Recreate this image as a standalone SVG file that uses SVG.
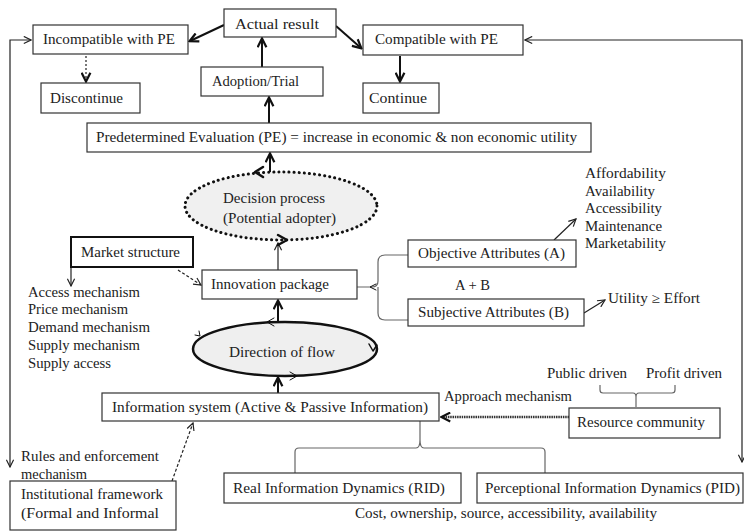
<svg xmlns="http://www.w3.org/2000/svg" width="744" height="531" viewBox="0 0 744 531" font-family="'Liberation Serif', 'Times New Roman', 'DejaVu Serif', serif">
<defs>
<style>
text{font-family:'Liberation Serif','Times New Roman','DejaVu Serif',serif;font-size:14px;fill:#222}
.box{fill:#fff;stroke:#333;stroke-width:1.2}
.ln{fill:none;stroke:#222;stroke-width:1.2}
.thick{fill:none;stroke:#111;stroke-width:2}
.br{fill:none;stroke:#666;stroke-width:1.2}
.chev{fill:none;stroke:#111;stroke-linecap:round;stroke-linejoin:round}
</style>
<marker id="a" viewBox="0 0 10 10" refX="9" refY="5" markerWidth="9" markerHeight="9" markerUnits="userSpaceOnUse" orient="auto-start-reverse">
<path d="M1,1 L9,5 L1,9" fill="none" stroke="#222" stroke-width="1.3"/>
</marker>
<marker id="b" viewBox="0 0 10 10" refX="8.5" refY="5" markerWidth="11" markerHeight="11" markerUnits="userSpaceOnUse" orient="auto-start-reverse">
<path d="M1,1 L9,5 L1,9" fill="none" stroke="#111" stroke-width="2"/>
</marker>
</defs>
<rect width="744" height="531" fill="#fff"/>

<g id="connectors">
<path class="ln" d="M10,467 L10,40 L31,40" marker-start="url(#a)" marker-end="url(#a)"/>
<path class="ln" d="M742,462 L742,40 L525,40" marker-start="url(#a)" marker-end="url(#a)"/>
<line class="thick" x1="224" y1="25" x2="190" y2="41" marker-end="url(#b)"/>
<line class="thick" x1="336" y1="26" x2="361" y2="48" marker-end="url(#b)"/>
<line class="thick" x1="262" y1="67" x2="262" y2="39" marker-end="url(#b)"/>
<line class="thick" x1="269" y1="123" x2="269" y2="98" marker-end="url(#b)"/>
<line class="thick" x1="400" y1="56" x2="400" y2="81" stroke-width="1.6" marker-end="url(#b)"/>
<line class="ln" x1="86" y1="56" x2="86" y2="81" stroke-dasharray="2 2" stroke-width="1.5" marker-end="url(#b)"/>
<line class="thick" x1="270" y1="172" x2="270" y2="154" marker-end="url(#b)"/>
<line class="ln" x1="278" y1="270" x2="278" y2="243" marker-end="url(#a)"/>
<line class="thick" x1="278" y1="322" x2="278" y2="301" marker-end="url(#b)"/>
<line class="thick" x1="278" y1="393" x2="278" y2="378" marker-end="url(#b)"/>
<line class="ln" x1="71" y1="267" x2="71" y2="286" marker-end="url(#a)"/>
<line class="ln" x1="178" y1="270" x2="201" y2="285" stroke-dasharray="3 2" stroke-width="1" marker-end="url(#a)"/>
<line class="ln" x1="172" y1="481" x2="193" y2="423" stroke-dasharray="3 2" stroke-width="1" marker-end="url(#a)"/>
<line x1="569" y1="417" x2="442" y2="417" stroke="#333" stroke-width="2.5" stroke-dasharray="1.5 0.8" marker-end="url(#b)"/>
<line class="ln" x1="554" y1="240" x2="576" y2="219" stroke-width="1" marker-end="url(#a)"/>
<line class="ln" x1="584" y1="313" x2="605" y2="300" stroke-width="1" marker-end="url(#a)"/>
<path class="br" d="M357,287 L372,287 Q378,287 378,281 L378,262 Q378,255 385,255 L408,255 M378,287 Q378,293 378,294 L378,313 Q378,320 385,320 L408,320"/>
<path class="chev" d="M376,284 L370,287 L376,290" stroke-width="1"/>
<path class="br" d="M420,421 L420,440 Q420,448 424,448 L541,448 Q545,448 545,452 L545,473 M420,440 Q420,448 416,448 L299,448 Q295,448 295,452 L295,473"/>
<path class="br" d="M600,385 L600,390 Q600,393 603,393 L633,393 Q636,393 636,397 Q636,393 639,393 L672,393 Q675,393 675,390 L675,385 M636,397 L636,407" stroke="#444"/>
</g>

<g id="decision">
<ellipse cx="281" cy="206" rx="96" ry="34" fill="#f0f0f0" stroke="#111" stroke-width="3" stroke-dasharray="0.1 5" stroke-linecap="round"/>
<path class="chev" d="M263,167 L255,172 L263,177" stroke-width="2.5"/>
<path class="chev" d="M278,235 L287,240 L278,245" stroke-width="2.5"/>
<text x="223" y="202.5" textLength="102" lengthAdjust="spacingAndGlyphs">Decision process</text>
<text x="223" y="222.5" textLength="113" lengthAdjust="spacingAndGlyphs">(Potential adopter)</text>
</g>

<g id="direction">
<ellipse cx="285" cy="349" rx="92" ry="27" fill="#efefef" stroke="#111" stroke-width="2.5"/>
<path class="chev" d="M274,318 L267,322 L274,326" stroke-width="1"/>
<path class="chev" d="M290,372 L297,376 L290,380" stroke-width="1"/>
<path class="chev" d="M195,335 L200,336 L199,331" stroke-width="1"/>
<path class="chev" d="M369,344 L373,351 L377,345" stroke-width="1.5"/>
<text x="229" y="356.5" textLength="106" lengthAdjust="spacingAndGlyphs">Direction of flow</text>
</g>

<g id="actual"><rect class="box" x="224" y="9" width="112" height="28"/><text x="235" y="29" textLength="84" lengthAdjust="spacingAndGlyphs">Actual result</text></g>
<g id="incompatible"><rect class="box" x="33" y="25" width="155" height="29"/><text x="43" y="44" textLength="132" lengthAdjust="spacingAndGlyphs">Incompatible with PE</text></g>
<g id="discontinue"><rect class="box" x="41" y="83" width="99" height="30"/><text x="50" y="102.5" textLength="73" lengthAdjust="spacingAndGlyphs">Discontinue</text></g>
<g id="adoption"><rect class="box" x="201" y="67" width="122" height="29"/><text x="212" y="85.5" textLength="87" lengthAdjust="spacingAndGlyphs">Adoption/Trial</text></g>
<g id="compatible"><rect class="box" x="363" y="25" width="160" height="30"/><text x="375" y="44" textLength="123" lengthAdjust="spacingAndGlyphs">Compatible with PE</text></g>
<g id="continue"><rect class="box" x="363" y="83" width="76" height="30"/><text x="369" y="102.5" textLength="58" lengthAdjust="spacingAndGlyphs">Continue</text></g>
<g id="evaluation"><rect class="box" x="87" y="123" width="504" height="29"/><text x="96" y="142" textLength="481" lengthAdjust="spacingAndGlyphs">Predetermined Evaluation (PE) = increase in economic &amp; non economic utility</text></g>

<g id="market"><rect x="71" y="237" width="122" height="30" fill="#fff" stroke="#111" stroke-width="2"/><text x="81" y="256.5" textLength="99" lengthAdjust="spacingAndGlyphs">Market structure</text></g>
<g id="market-list">
<text x="28" y="296.5" textLength="112" lengthAdjust="spacingAndGlyphs">Access mechanism</text>
<text x="28" y="314.3" textLength="100" lengthAdjust="spacingAndGlyphs">Price mechanism</text>
<text x="28" y="332" textLength="122" lengthAdjust="spacingAndGlyphs">Demand mechanism</text>
<text x="28" y="349.7" textLength="112" lengthAdjust="spacingAndGlyphs">Supply mechanism</text>
<text x="28" y="367.5" textLength="83" lengthAdjust="spacingAndGlyphs">Supply access</text>
</g>
<g id="innovation"><rect class="box" x="202" y="270" width="155" height="29"/><text x="211" y="288.5" textLength="118" lengthAdjust="spacingAndGlyphs">Innovation package</text></g>

<g id="objective"><rect class="box" x="408" y="240" width="168" height="27"/><text x="418" y="258" textLength="147" lengthAdjust="spacingAndGlyphs">Objective Attributes (A)</text></g>
<g id="subjective"><rect class="box" x="408" y="299" width="176" height="27"/><text x="418" y="317" textLength="151" lengthAdjust="spacingAndGlyphs">Subjective Attributes (B)</text></g>
<g id="aplusb"><text x="455" y="289.5" textLength="35" lengthAdjust="spacingAndGlyphs">A + B</text></g>
<g id="objective-list">
<text x="585" y="177.5" textLength="81" lengthAdjust="spacingAndGlyphs">Affordability</text>
<text x="585" y="195.5" textLength="70" lengthAdjust="spacingAndGlyphs">Availability</text>
<text x="585" y="213" textLength="77" lengthAdjust="spacingAndGlyphs">Accessibility</text>
<text x="585" y="230.5" textLength="77" lengthAdjust="spacingAndGlyphs">Maintenance</text>
<text x="585" y="247.5" textLength="81" lengthAdjust="spacingAndGlyphs">Marketability</text>
</g>
<g id="utility"><text x="608" y="302.5" textLength="92" lengthAdjust="spacingAndGlyphs">Utility ≥ Effort</text></g>

<g id="information"><rect class="box" x="102" y="393" width="337" height="28"/><text x="112" y="411.5" textLength="316" lengthAdjust="spacingAndGlyphs">Information system (Active &amp; Passive Information)</text></g>
<g id="approach"><text x="444" y="400.5" textLength="128" lengthAdjust="spacingAndGlyphs">Approach mechanism</text></g>
<g id="drivers">
<text x="547" y="377.5" textLength="80" lengthAdjust="spacingAndGlyphs">Public driven</text>
<text x="646" y="377.5" textLength="76" lengthAdjust="spacingAndGlyphs">Profit driven</text>
</g>
<g id="resource"><rect class="box" x="569" y="408" width="151" height="30"/><text x="577" y="426.5" textLength="128" lengthAdjust="spacingAndGlyphs">Resource community</text></g>

<g id="rules">
<text x="21" y="460.5" textLength="138" lengthAdjust="spacingAndGlyphs">Rules and enforcement</text>
<text x="21" y="478.5" textLength="66" lengthAdjust="spacingAndGlyphs">mechanism</text>
</g>
<g id="institutional"><rect class="box" x="10" y="481" width="166" height="49"/>
<text x="21" y="498.5" textLength="142" lengthAdjust="spacingAndGlyphs">Institutional framework</text>
<text x="21" y="518" textLength="138" lengthAdjust="spacingAndGlyphs">(Formal and Informal</text>
</g>
<g id="rid"><rect class="box" x="224" y="473" width="237" height="30"/><text x="233" y="492.5" textLength="212" lengthAdjust="spacingAndGlyphs">Real Information Dynamics (RID)</text></g>
<g id="pid"><rect class="box" x="477" y="473" width="266" height="30"/><text x="485" y="492.5" textLength="255" lengthAdjust="spacingAndGlyphs">Perceptional Information Dynamics (PID)</text></g>
<g id="cost"><text x="355" y="517.5" textLength="302" lengthAdjust="spacingAndGlyphs">Cost, ownership, source, accessibility, availability</text></g>
</svg>
